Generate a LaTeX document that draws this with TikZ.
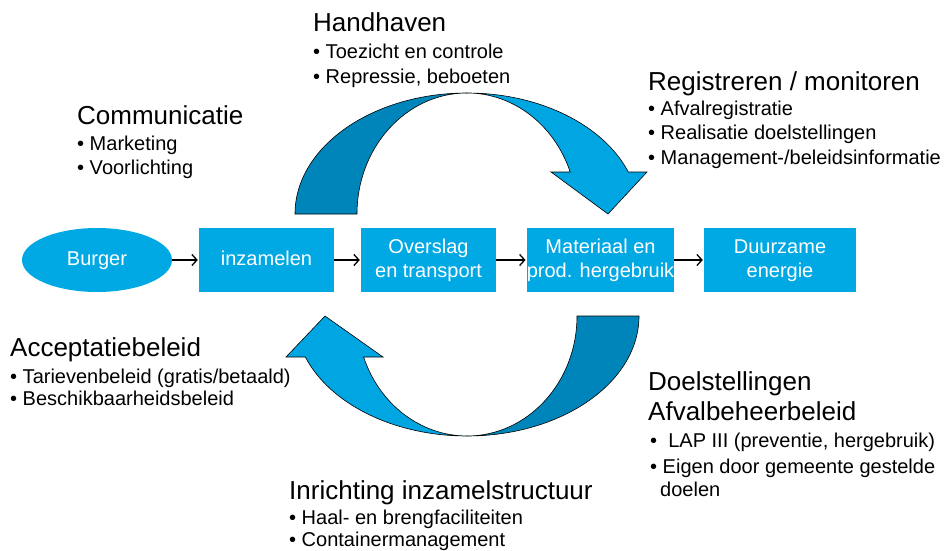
\documentclass[tikz,border=0pt]{standalone}
\usepackage{fontspec}
\setmainfont{Liberation Sans}
\usetikzlibrary{arrows.meta, shapes.geometric}
\definecolor{pijllicht}{RGB}{0,166,226}
\definecolor{pijldonker}{RGB}{0,133,186}
\definecolor{blokblauw}{RGB}{0,168,228}
\tikzset{titel/.style={font=\fontsize{26}{30}\selectfont},
         punt/.style={font=\fontsize{20}{24}\selectfont}}

\begin{document}
\begin{tikzpicture}[x=1pt,y=-1pt]
\useasboundingbox (0,0) rectangle (945,551);

% curved arrows (top: handhaven -> registreren, bottom: back to inzamelen)
\begin{scope}[draw=black, line width=0.6pt]
    \filldraw[fill=pijldonker] (295,214) arc[start angle=180, end angle=90, x radius=172pt, y radius=121pt]
        arc[start angle=90, end angle=180, x radius=110pt, y radius=121pt] -- cycle;
    \filldraw[fill=pijllicht] (467,93) arc[start angle=90, end angle=20.3, x radius=172pt, y radius=121pt]
        -- (647,172) -- (608,214) -- (551,172) -- (570.2,172)
        arc[start angle=20.3, end angle=90, x radius=110pt, y radius=121pt] -- cycle;

    \filldraw[fill=pijldonker] (639,316) arc[start angle=0, end angle=-90, x radius=172pt, y radius=120pt]
        arc[start angle=-90, end angle=0, x radius=110pt, y radius=120pt] -- cycle;
    \filldraw[fill=pijllicht] (467,436) arc[start angle=270, end angle=200, x radius=172pt, y radius=120pt]
        -- (286,357) -- (325,316) -- (383,357) -- (363.6,357)
        arc[start angle=200, end angle=270, x radius=110pt, y radius=120pt] -- cycle;
\end{scope}

% chain of steps
\begin{scope}[every node/.style={fill=blokblauw, text=white, align=center, inner sep=0pt,
              minimum height=64pt, text depth=3pt, font=\fontsize{20}{24}\selectfont}]
    \node[ellipse, minimum width=150pt] (burger) at (97,260) {Burger};
    \node[minimum width=135pt] (inzamelen) at (266.5,260) {inzamelen};
    \node[minimum width=135pt] (overslag) at (428.5,260) {Overslag\\en transport};
    \node[minimum width=147pt] (materiaal) at (600.5,260) {Materiaal en\\prod. hergebruik};
    \node[minimum width=152pt] (energie) at (780,260) {Duurzame\\energie};
\end{scope}

\begin{scope}[>={Straight Barb[length=5pt,width=11pt]}, line width=1.3pt]
    \draw[->, shorten >=1pt] (burger) -- (inzamelen);
    \draw[->, shorten >=1pt] (inzamelen) -- (overslag);
    \draw[->, shorten >=1pt] (overslag) -- (materiaal);
    \draw[->, shorten >=1pt] (materiaal) -- (energie);
\end{scope}

% texts
\begin{scope}[every node/.style={anchor=base west, inner sep=0pt}]
    \node[titel] (handhaven) at (313,32) {Handhaven};
    \node[punt] (hhA) at (313,59) {\textbullet\ Toezicht en controle};
    \node[punt] (hhB) at (313,83) {\textbullet\ Repressie, beboeten};

    \node[titel] (registreren) at (648,90) {Registreren / monitoren};
    \node[punt] (regA) at (648,115) {\textbullet\ Afvalregistratie};
    \node[punt] (regB) at (648,139) {\textbullet\ Realisatie doelstellingen};
    \node[punt] (regC) at (648,164) {\textbullet\ Management-/beleidsinformatie};

    \node[titel] (communicatie) at (77,124) {Communicatie};
    \node[punt] (comA) at (77,150) {\textbullet\ Marketing};
    \node[punt] (comB) at (77,174) {\textbullet\ Voorlichting};

    \node[titel] (acceptatie) at (10,356) {Acceptatiebeleid};
    \node[punt] (accA) at (10,383) {\textbullet\ Tarievenbeleid (gratis/betaald)};
    \node[punt] (accB) at (10,405) {\textbullet\ Beschikbaarheidsbeleid};

    \node[titel] (doelstellingen) at (648,390) {Doelstellingen};
    \node[titel] (afvalbeheer) at (648,420) {Afvalbeheerbeleid};
    \node[punt] (doelA) at (650,447) {\textbullet\ \ LAP III (preventie, hergebruik)};
    \node[punt] (doelB) at (650,473) {\textbullet\ Eigen door gemeente gestelde};
    \node[punt] (doelC) at (660,496) {doelen};

    \node[titel] (inrichting) at (289,499) {Inrichting inzamelstructuur};
    \node[punt] (inrA) at (289,524) {\textbullet\ Haal- en brengfaciliteiten};
    \node[punt] (inrB) at (289,546) {\textbullet\ Containermanagement};
\end{scope}
\end{tikzpicture}
\end{document}
